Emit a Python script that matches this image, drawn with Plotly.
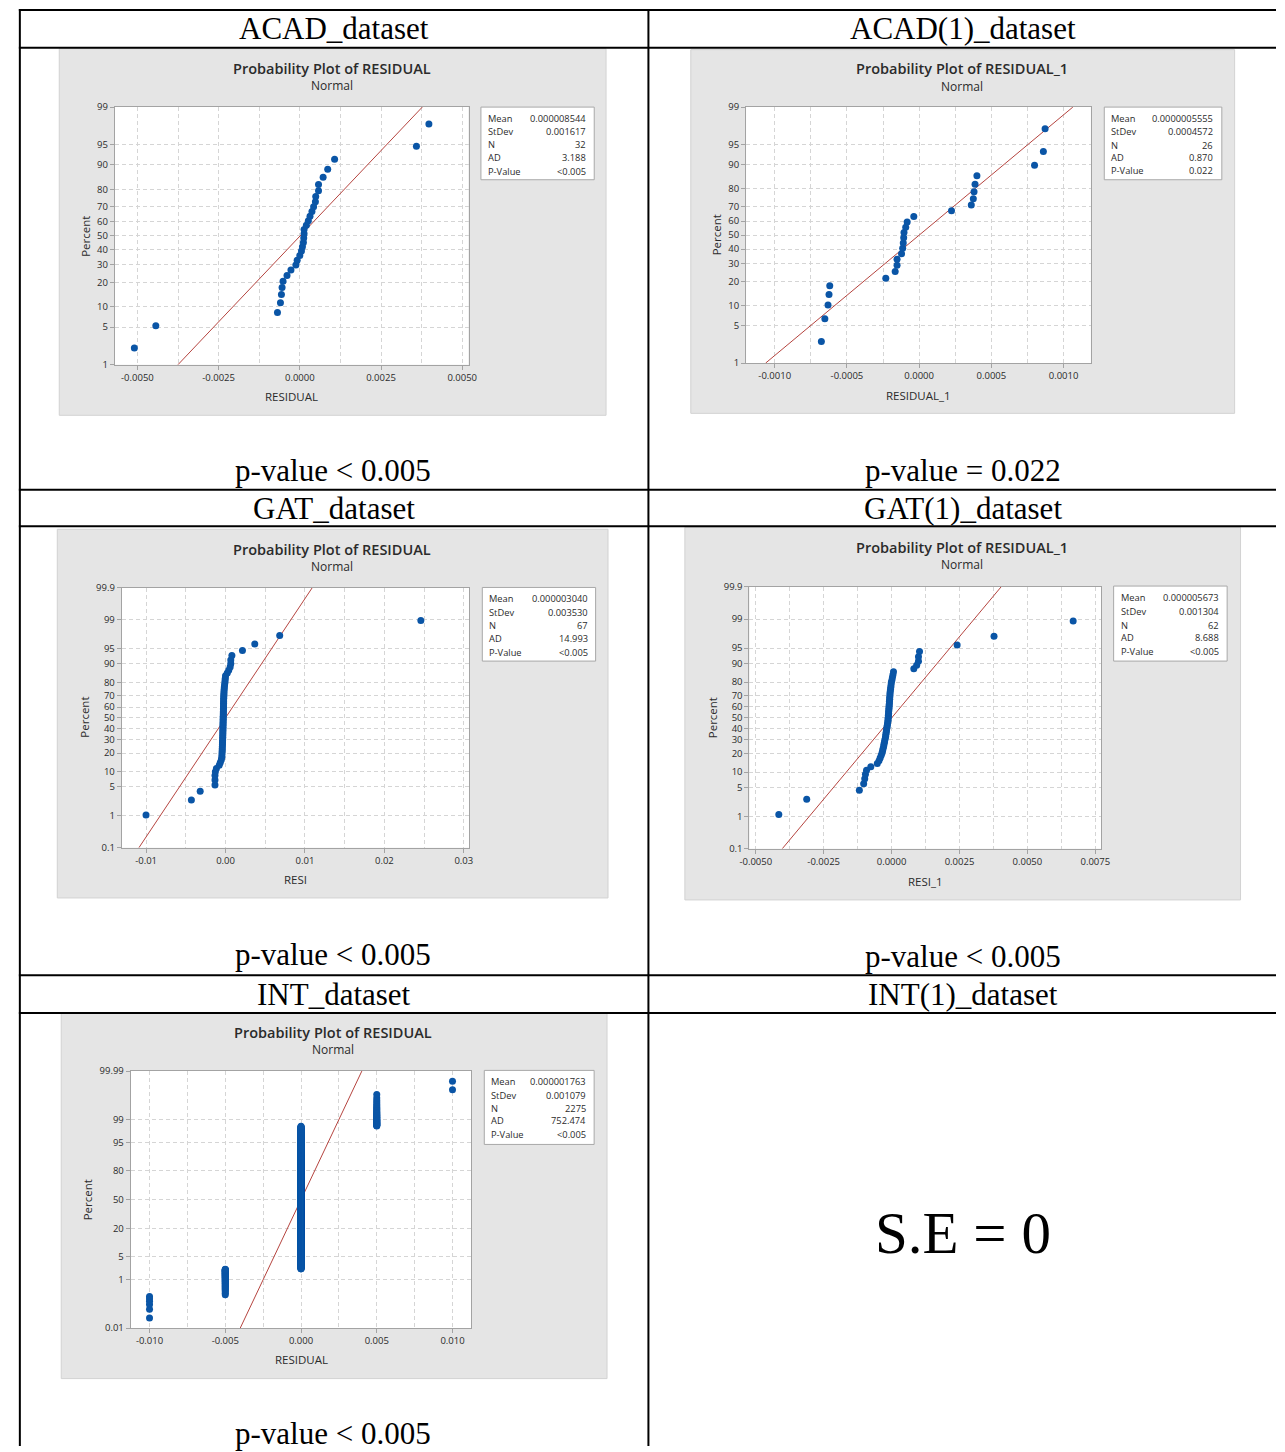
import numpy as np
import plotly.graph_objects as go
from statistics import NormalDist

W, H = 1285, 1452
ND = NormalDist()

# ---------------- data ----------------
# sorted residuals of each fitted model
acad_resid = [-0.005094, -0.004433, -0.000688, -0.000596, -0.000566, -0.000546, -0.000516,
              -0.000394, -0.000273, -0.000121, -0.000081, 0.000000, 0.000051, 0.000081,
              0.000111, 0.000121, 0.000131, 0.000131, 0.000202, 0.000263, 0.000314,
              0.000374, 0.000425, 0.000480, 0.000490, 0.000576, 0.000576, 0.000718,
              0.000859, 0.001071, 0.003590, 0.003974]

acad1_resid = [-0.000677, -0.000653, -0.000631, -0.000624, -0.000619, -0.000231, -0.000166,
               -0.000153, -0.000153, -0.000122, -0.000114, -0.000110, -0.000107, -0.000105,
               -0.000093, -0.000083, -0.000037, 0.000224, 0.000361, 0.000375, 0.000380,
               0.000387, 0.000400, 0.000799, 0.000860, 0.000872]

gat_resid = [-0.01001, -0.00430, -0.00319, -0.00133, -0.00133, -0.00133, -0.00128, -0.00115,
             -0.00080, -0.00066, -0.00053,
             -0.00047, -0.00045, -0.00044, -0.00042, -0.00041, -0.00040, -0.00039, -0.00038,
             -0.00037,
             -0.00036, -0.00035, -0.00035, -0.00034, -0.00034, -0.00033, -0.00033, -0.00032,
             -0.00032, -0.00031,
             -0.00031, -0.00030, -0.00030, -0.00029, -0.00029, -0.00028, -0.00028, -0.00027,
             -0.00027, -0.00026,
             -0.00026, -0.00025, -0.00025, -0.00024, -0.00024, -0.00023, -0.00022, -0.00021,
             -0.00020, -0.00019,
             -0.00017, -0.00015, -0.00012, -0.00008, -0.00006, -0.00003,
             0.00000, 0.00022, 0.00040, 0.00058, 0.00066, 0.00066, 0.00080, 0.00213, 0.00368,
             0.00682, 0.02459]

gat1_resid = [-0.004153, -0.003125, -0.001187, -0.001028, -0.000989, -0.000963, -0.000923,
              -0.000765, -0.000527, -0.000461, -0.000422, -0.000382,
              -0.00035, -0.00033, -0.00031, -0.00029, -0.00028, -0.00026, -0.00025, -0.00023,
              -0.00022, -0.00021, -0.00020, -0.00019, -0.00018, -0.00017, -0.00016, -0.00015,
              -0.00014, -0.00013, -0.00013, -0.00012, -0.00012, -0.00011, -0.00011, -0.00010,
              -0.00010, -0.00009, -0.00009, -0.00008, -0.00008, -0.00007, -0.00007, -0.00006,
              -0.00006, -0.00005, -0.00004, -0.00003, -0.00002, -0.00001, 0.00001, 0.00003,
              0.00005, 0.00007,
              0.000818, 0.000923, 0.000989, 0.000989, 0.001028, 0.002413, 0.003771, 0.006685]

# INT residuals only take a few discrete values
int_levels = [-0.010, -0.005, 0.000, 0.005, 0.010]
int_counts = [6, 44, 2187, 36, 2]
int_resid = np.repeat(int_levels, int_counts)

stat_names = ["Mean", "StDev", "N", "AD", "P-Value"]
acad_stats = ["0.000008544", "0.001617", "32", "3.188", "<0.005"]
acad1_stats = ["0.0000005555", "0.0004572", "26", "0.870", "0.022"]
gat_stats = ["0.000003040", "0.003530", "67", "14.993", "<0.005"]
gat1_stats = ["0.000005673", "0.001304", "62", "8.688", "<0.005"]
int_stats = ["0.000001763", "0.001079", "2275", "752.474", "<0.005"]

pct_ticks_99 = [1, 5, 10, 20, 30, 40, 50, 60, 70, 80, 90, 95, 99]
pct_ticks_999 = [0.1, 1, 5, 10, 20, 30, 40, 50, 60, 70, 80, 90, 95, 99, 99.9]
pct_ticks_9999 = [0.01, 1, 5, 20, 50, 80, 95, 99, 99.99]

acad_xticks = [-0.005, -0.0025, 0.0, 0.0025, 0.005]
acad_xlabels = ["-0.0050", "-0.0025", "0.0000", "0.0025", "0.0050"]
acad1_xticks = [-0.001, -0.0005, 0.0, 0.0005, 0.001]
acad1_xlabels = ["-0.0010", "-0.0005", "0.0000", "0.0005", "0.0010"]
gat_xticks = [-0.01, 0.0, 0.01, 0.02, 0.03]
gat_xlabels = ["-0.01", "0.00", "0.01", "0.02", "0.03"]
gat1_xticks = [-0.005, -0.0025, 0.0, 0.0025, 0.005, 0.0075]
gat1_xlabels = ["-0.0050", "-0.0025", "0.0000", "0.0025", "0.0050", "0.0075"]
int_xticks = [-0.01, -0.005, 0.0, 0.005, 0.01]
int_xlabels = ["-0.010", "-0.005", "0.000", "0.005", "0.010"]

header_texts = ["ACAD_dataset", "ACAD(1)_dataset", "GAT_dataset", "GAT(1)_dataset",
                "INT_dataset", "INT(1)_dataset"]
pvalue_texts = ["p-value &lt; 0.005", "p-value = 0.022", "p-value &lt; 0.005",
                "p-value &lt; 0.005", "p-value &lt; 0.005"]
se_text = "S.E = 0"

# ---------------- styling ----------------
BLUE = "#0a55a6"
RED = "#b5443f"
GRID = "#d5d5d5"
DASH = "4px,3px"
AXC = "#a3a3a3"
PANEL = "#e5e5e5"
SANS = "Open Sans"
SERIF = "Liberation Serif"
TXT = "#2b2b2b"


def px(x):
    return x / W


def py(y):
    return 1 - y / H


charts = [
    dict(resid=acad_resid, stats=acad_stats, pct=pct_ticks_99, xt=acad_xticks, xl=acad_xlabels,
         title="Probability Plot of RESIDUAL", xtitle="RESIDUAL",
         panel=(50, 42, 605, 412), area=(106.4, 101, 465.4, 361),
         xrange=(-0.005695, 0.005194), title_xy=(327, 62), normal_y=79.5,
         box=(478, 101, 593, 174.3), lab_x=483.5, val_x=587, rows=[112.3, 125.7, 139, 152.2, 165.5],
         percent_xy=(77, 231), xtitle_xy=(286, 393.5)),
    dict(resid=acad1_resid, stats=acad1_stats, pct=pct_ticks_99, xt=acad1_xticks, xl=acad1_xlabels,
         title="Probability Plot of RESIDUAL_1", xtitle="RESIDUAL_1",
         panel=(691, 43, 1243, 410), area=(747.1, 101, 1097.1, 359.3),
         xrange=(-0.0011985, 0.001189), title_xy=(966.5, 62.5), normal_y=80,
         box=(1110.7, 101, 1230, 174.3), lab_x=1115.5, val_x=1223.5, rows=[112.3, 126, 139.3, 152, 165.3],
         percent_xy=(718, 230), xtitle_xy=(922, 391.7)),
    dict(resid=gat_resid, stats=gat_stats, pct=pct_ticks_999, xt=gat_xticks, xl=gat_xlabels,
         title="Probability Plot of RESIDUAL", xtitle="RESI",
         panel=(48, 527, 607, 899), area=(113.4, 586, 465.9, 848.3),
         xrange=(-0.01307, 0.030654), title_xy=(326.5, 547.3), normal_y=564.7,
         box=(479.4, 585.7, 594.4, 660), lab_x=484.5, val_x=588.5, rows=[597.3, 611.3, 624.3, 637.3, 651],
         percent_xy=(75.5, 716.7), xtitle_xy=(290, 880.3)),
    dict(resid=gat1_resid, stats=gat1_stats, pct=pct_ticks_999, xt=gat1_xticks, xl=gat1_xlabels,
         title="Probability Plot of RESIDUAL_1", xtitle="RESI_1",
         panel=(685, 525, 1249, 901), area=(750.5, 585, 1107.5, 849.3),
         xrange=(-0.005235, 0.007714), title_xy=(966.5, 545.7), normal_y=562.7,
         box=(1120.2, 584.3, 1235.4, 660), lab_x=1125.5, val_x=1229, rows=[596.3, 610, 623.7, 636.7, 650.3],
         percent_xy=(712.5, 716.7), xtitle_xy=(929.7, 882)),
    dict(resid=int_resid, stats=int_stats, pct=pct_ticks_9999, xt=int_xticks, xl=int_xlabels,
         title="Probability Plot of RESIDUAL", xtitle="RESIDUAL",
         panel=(52, 1015, 606, 1384), area=(122.5, 1073.7, 467.9, 1333),
         xrange=(-0.011243, 0.01122), title_xy=(328, 1034.7), normal_y=1052,
         box=(481.4, 1073, 592.9, 1147.7), lab_x=486.5, val_x=587, rows=[1084.7, 1098.3, 1111.3, 1124, 1137.3],
         percent_xy=(78.6, 1203.7), xtitle_xy=(295.7, 1364.7)),
]

fig = go.Figure()
shapes = []
annotations = []
axes = {}


def ann(text, x, y, size, family=SANS, color=TXT, xanchor="center", yanchor="middle", **kw):
    font = dict(family=family, size=size, color=color)
    if "weight" in kw:
        font["weight"] = kw.pop("weight")
    annotations.append(dict(text=text, x=px(x), y=py(y), xref="paper", yref="paper",
                            xanchor=xanchor, yanchor=yanchor, showarrow=False, font=font, **kw))


for k, c in enumerate(charts, start=1):
    sfx = "" if k == 1 else str(k)
    xa, ya = "x" + sfx, "y" + sfx

    # gray chart panel and white data region
    l, t, r, b = c["panel"]
    shapes.append(dict(type="rect", xref="paper", yref="paper", x0=px(l), x1=px(r), y0=py(b), y1=py(t),
                       fillcolor=PANEL, line=dict(color="#d2d2d2", width=1), layer="below"))
    shapes.append(dict(type="rect", xref=xa + " domain", yref=ya + " domain", x0=0, x1=1, y0=0, y1=1,
                       fillcolor="white", line=dict(width=0), layer="below"))

    # normal probability scale
    zr = ND.inv_cdf(c["pct"][-1] / 100)
    zt = [ND.inv_cdf(p / 100) for p in c["pct"]]
    zl = [f"{p:g}" for p in c["pct"]]

    resid = sorted(float(v) for v in c["resid"])
    n = len(resid)
    z = [ND.inv_cdf((i - 0.3) / (n + 0.4)) for i in range(1, n + 1)]

    mean, sd = float(c["stats"][0]), float(c["stats"][1])
    fig.add_trace(go.Scatter(x=[mean - sd * zr, mean + sd * zr], y=[-zr, zr], mode="lines",
                             line=dict(color=RED, width=1), xaxis=xa, yaxis=ya,
                             showlegend=False, hoverinfo="skip"))
    fig.add_trace(go.Scatter(x=resid, y=z, mode="markers",
                             marker=dict(size=7, color=BLUE, line=dict(width=0)),
                             xaxis=xa, yaxis=ya, showlegend=False, hoverinfo="skip"))

    al, at, ar, ab = c["area"]
    xt = c["xt"]
    minor = [(xt[i] + xt[i + 1]) / 2 for i in range(len(xt) - 1)]
    axes["xaxis" + sfx] = dict(
        domain=[px(al), px(ar)], range=list(c["xrange"]), anchor=ya,
        tickmode="array", tickvals=xt, ticktext=c["xl"],
        showgrid=True, gridcolor=GRID, griddash=DASH, gridwidth=1,
        minor=dict(tickmode="array", tickvals=minor, showgrid=True, gridcolor=GRID,
                   griddash=DASH, gridwidth=1, ticks=""),
        showline=True, mirror=True, linecolor=AXC, linewidth=1,
        ticks="outside", ticklen=4, tickcolor=AXC, zeroline=False,
        tickfont=dict(family=SANS, size=9.5, color=TXT), fixedrange=True)
    axes["yaxis" + sfx] = dict(
        domain=[py(ab), py(at)], range=[-zr, zr], anchor=xa,
        tickmode="array", tickvals=zt, ticktext=zl,
        showgrid=True, gridcolor=GRID, griddash=DASH, gridwidth=1,
        showline=True, mirror=True, linecolor=AXC, linewidth=1,
        ticks="outside", ticklen=4, tickcolor=AXC, zeroline=False,
        tickfont=dict(family=SANS, size=9.5, color=TXT), fixedrange=True)

    # titles
    tx, ty = c["title_xy"]
    ann(c["title"], tx, ty, 14.5, weight=600)
    ann("Normal", tx, c["normal_y"], 12)
    ann("Percent", c["percent_xy"][0], c["percent_xy"][1], 11.5, textangle=-90)
    ann(c["xtitle"], c["xtitle_xy"][0], c["xtitle_xy"][1], 11.5)

    # statistics box
    bl, bt, br, bb = c["box"]
    shapes.append(dict(type="rect", xref="paper", yref="paper", x0=px(bl), x1=px(br), y0=py(bb), y1=py(bt),
                       fillcolor="white", line=dict(color="#a8a8a8", width=1), layer="below"))
    for name, val, yy in zip(stat_names, c["stats"], c["rows"]):
        ann(name, c["lab_x"], yy, 9.3, xanchor="left")
        ann(val.replace("<", "&lt;"), c["val_x"], yy, 9.3, xanchor="right")

# ---------------- table frame ----------------
LINE = dict(color="black", width=2)
for yy in [3, 41, 487, 524, 977, 1015]:
    shapes.append(dict(type="line", xref="paper", yref="paper", x0=px(9), x1=1, y0=py(yy), y1=py(yy),
                       line=LINE, layer="above"))
for xx in [10, 648]:
    shapes.append(dict(type="line", xref="paper", yref="paper", x0=px(xx), x1=px(xx), y0=0, y1=py(2),
                       line=LINE, layer="above"))

col_x = [329, 967]
header_y = [22, 506, 996]
for i, txt in enumerate(header_texts):
    ann(txt, col_x[i % 2], header_y[i // 2], 31, family=SERIF, color="black")

pv_pos = [(328, 468), (967, 468), (328, 956), (967, 958), (328, 1439)]
for txt, (xx, yy) in zip(pvalue_texts, pv_pos):
    ann(txt, xx, yy, 31, family=SERIF, color="black")

ann(se_text, 967, 1237, 59, family=SERIF, color="black")

fig.update_layout(
    width=W, height=H, autosize=False,
    margin=dict(l=0, r=0, t=0, b=0),
    paper_bgcolor="white", plot_bgcolor="white",
    shapes=shapes, annotations=annotations, showlegend=False,
    **axes,
)

fig.write_html("out.html")
